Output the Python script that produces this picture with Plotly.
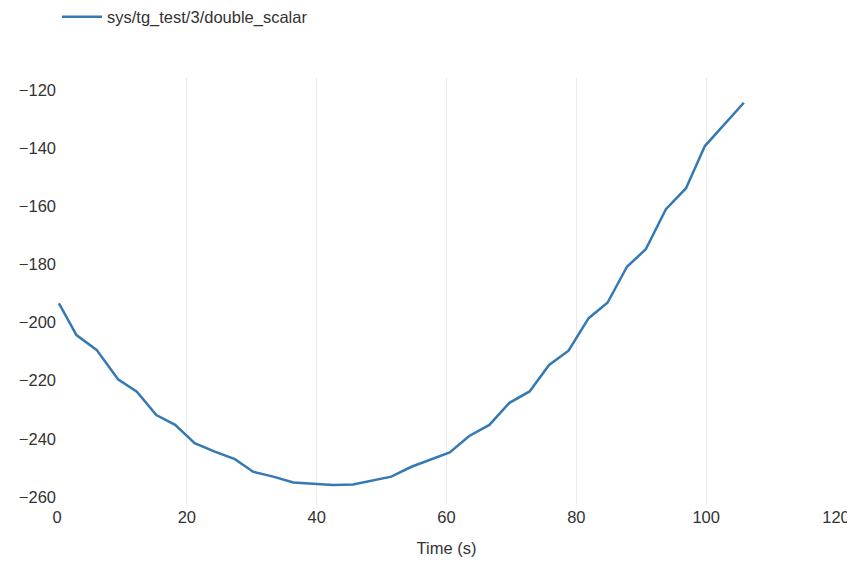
import plotly.graph_objects as go

series_name = "sys/tg_test/3/double_scalar"
time_s = [0.3, 3.0, 6.1, 9.4, 12.3, 15.3, 18.2, 21.2, 24.3, 27.4, 30.2, 33.3, 36.4, 39.5, 42.5,
          45.6, 48.7, 51.5, 54.6, 57.4, 60.5, 63.5, 66.6, 69.7, 72.8, 75.8, 78.8, 81.9, 84.8,
          87.8, 90.7, 93.8, 96.9, 99.8, 105.8]
values = [-193.4, -204.3, -209.4, -219.5, -223.8, -231.8, -235.2, -241.5, -244.4, -247.0,
          -251.3, -253.0, -255.0, -255.5, -255.9, -255.7, -254.2, -253.0, -249.6, -247.3,
          -244.7, -239.0, -235.2, -227.6, -223.7, -214.6, -209.7, -198.5, -193.2, -180.8,
          -174.8, -161.0, -153.8, -139.3, -124.4]
x_ticks = [0, 20, 40, 60, 80, 100, 120]
y_ticks = [-260, -240, -220, -200, -180, -160, -140, -120]

fig = go.Figure()
fig.add_trace(go.Scatter(x=time_s, y=values, mode="lines", name=series_name,
                         line=dict(color="#3479b4", width=2.5)))

fam = "Liberation Sans, Arial, Helvetica, sans-serif"
font = dict(family=fam, size=16.5, color="#333333")
# page body has an 8px margin: figure is sized to fill the window from (8, 8)
fig.update_layout(
    width=847, height=554,
    margin=dict(l=49, r=19, t=70, b=57, autoexpand=False),
    paper_bgcolor="white", plot_bgcolor="white",
    font=font,
    showlegend=True,
    legend=dict(orientation="h", x=0, xanchor="left", y=1 + 61 / 427, yanchor="middle",
                itemwidth=40, font=dict(family=fam, size=16.5, color="#333333"),
                bgcolor="rgba(0,0,0,0)"),
    xaxis=dict(range=[0, 120], tickvals=x_ticks, showgrid=True, gridcolor="#ebebeb",
               gridwidth=1, zeroline=False, showline=False, ticks="", automargin=False,
               title=dict(text="Time (s)", font=font, standoff=17)),
    yaxis=dict(range=[-262.75, -115.9], tickvals=y_ticks, showgrid=False, zeroline=False,
               showline=False, ticks="", automargin=False),
)
fig.write_html("out.html")
